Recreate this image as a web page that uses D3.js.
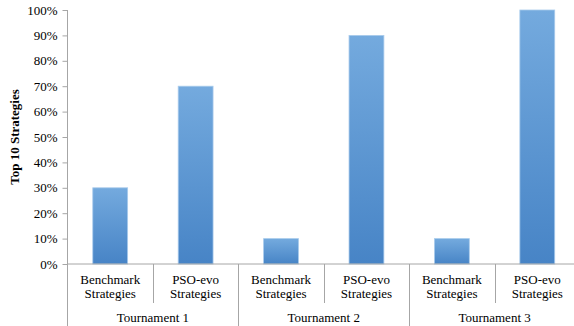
<!DOCTYPE html>
<html>
<head>
<meta charset="utf-8">
<script src="https://cdn.jsdelivr.net/npm/d3@7"></script>
<style>
  html, body { margin: 0; padding: 0; background: #fff; }
  svg { display: block; }
</style>
</head>
<body>
<svg id="chart" width="574" height="326"></svg>
<script>
// Tournament groups and the two strategy sets inside each
const tournaments = ["Tournament 1", "Tournament 2", "Tournament 3"];
const strategies = [["Benchmark", "Strategies"], ["PSO-evo", "Strategies"]];
// Share of the top 10 strategies, per tournament, per strategy set
const benchmarkValues = [0.30, 0.10, 0.10];
const psoEvoValues = [0.70, 0.90, 1.00];
const yTicks = [0, 0.1, 0.2, 0.3, 0.4, 0.5, 0.6, 0.7, 0.8, 0.9, 1.0];

const rows = [];
tournaments.forEach((t, i) => {
  rows.push({ key: t + "|0", group: t, label: strategies[0], value: benchmarkValues[i] });
  rows.push({ key: t + "|1", group: t, label: strategies[1], value: psoEvoValues[i] });
});

const serif = "'Liberation Serif', 'Times New Roman', serif";
const svg = d3.select("#chart").style("font-family", serif);
const plotLeft = 67.5, plotRight = 580, plotTop = 10, plotBottom = 264;

const x = d3.scaleBand().domain(rows.map(d => d.key)).range([plotLeft, plotRight]).padding(0);
const y = d3.scaleLinear().domain([0, 1]).range([plotBottom, plotTop]);
const step = x.step();
const barW = step / 2.45;

const defs = svg.append("defs");
const grad = defs.append("linearGradient")
  .attr("id", "barFill").attr("x1", 0).attr("y1", 0).attr("x2", 0).attr("y2", 1);
grad.append("stop").attr("offset", "0%").attr("stop-color", "#74aade");
grad.append("stop").attr("offset", "100%").attr("stop-color", "#4784c6");

// Bars
svg.append("g").selectAll("rect").data(rows).join("rect")
  .attr("x", d => x(d.key) + (step - barW) / 2)
  .attr("y", d => y(d.value))
  .attr("width", barW)
  .attr("height", d => y(0) - y(d.value))
  .attr("fill", "url(#barFill)")
  .attr("stroke", "#a9cbec")
  .attr("stroke-width", 0.8);

// Value axis
const yAxis = d3.axisLeft(y).tickValues(yTicks).tickFormat(d3.format(".0%")).tickSize(5).tickPadding(5);
const gy = svg.append("g").attr("transform", `translate(${plotLeft},0)`).call(yAxis)
  .attr("font-family", null).attr("font-size", null);
gy.select(".domain").remove();
gy.selectAll(".tick line").attr("stroke", "#a6a6a6");
gy.selectAll(".tick text").style("font-size", "13px").style("font-family", serif).attr("fill", "#000");

const axisColor = "#a6a6a6";
// Vertical axis line, running down through the category area
svg.append("line").attr("x1", plotLeft).attr("x2", plotLeft).attr("y1", plotTop).attr("y2", 326)
  .attr("stroke", axisColor);
// Horizontal baseline
svg.append("line").attr("x1", plotLeft).attr("x2", plotRight).attr("y1", plotBottom).attr("y2", plotBottom)
  .attr("stroke", axisColor);

// Separators: short between strategy sets, long between tournaments
rows.forEach((d, i) => {
  if (i === 0) return;
  const xx = Math.round(x(d.key)) + 0.5;
  const longLine = i % 2 === 0;
  svg.append("line").attr("x1", xx).attr("x2", xx)
    .attr("y1", plotBottom).attr("y2", longLine ? 326 : 303)
    .attr("stroke", axisColor);
});

// Strategy labels (two lines)
const lab = svg.append("g").selectAll("text").data(rows).join("text")
  .attr("text-anchor", "middle")
  .style("font-family", serif)
  .style("font-size", "13px");
lab.append("tspan").attr("x", d => x(d.key) + step / 2).attr("y", 284).text(d => d.label[0]);
lab.append("tspan").attr("x", d => x(d.key) + step / 2).attr("y", 298).text(d => d.label[1]);

// Tournament labels
svg.append("g").selectAll("text").data(tournaments).join("text")
  .attr("x", (d, i) => x(rows[i * 2].key) + step)
  .attr("y", 322)
  .attr("text-anchor", "middle")
  .style("font-family", serif)
  .style("font-size", "13px")
  .text(d => d);

// Axis title
svg.append("text")
  .attr("transform", `translate(19,${(plotTop + plotBottom) / 2}) rotate(-90)`)
  .attr("text-anchor", "middle")
  .style("font-family", serif)
  .style("font-size", "13px")
  .style("font-weight", "bold")
  .text("Top 10 Strategies");
</script>
</body>
</html>
